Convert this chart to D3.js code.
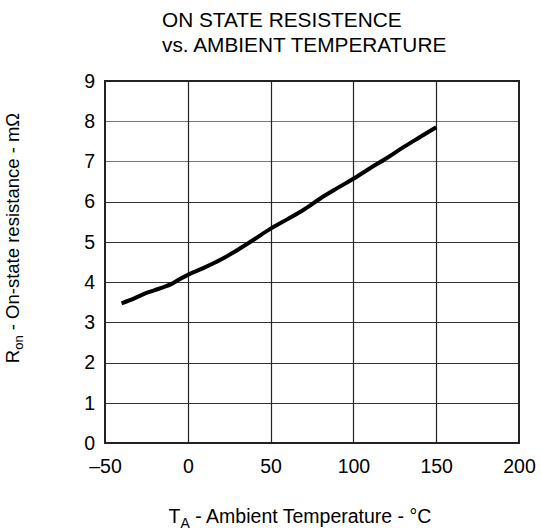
<!DOCTYPE html>
<html>
<head>
<meta charset="utf-8">
<script src="https://cdn.jsdelivr.net/npm/d3@7"></script>
<style>
  html, body { margin: 0; padding: 0; background: #fff; }
  svg { display: block; font-family: "Liberation Sans", Arial, sans-serif; }
</style>
</head>
<body>
<svg id="chart" width="541" height="532"></svg>
<script>
const temperature = [-40, -35, -30, -25, -20, -15, -10, -5, 0, 10, 20, 30, 40, 50, 60, 70, 80, 90, 100, 110, 120, 130, 140, 150];
const resistance  = [3.47, 3.55, 3.64, 3.73, 3.80, 3.87, 3.95, 4.07, 4.18, 4.36, 4.56, 4.80, 5.06, 5.33, 5.56, 5.80, 6.08, 6.33, 6.57, 6.83, 7.08, 7.35, 7.60, 7.85];
const xTicks = [-50, 0, 50, 100, 150, 200];
const yTicks = [0, 1, 2, 3, 4, 5, 6, 7, 8, 9];
const titleLines = ["ON STATE RESISTENCE", "vs. AMBIENT TEMPERATURE"];

const svg = d3.select("#chart");
const mLeft = 105, mRight = 519, mTop = 81, mBottom = 443;

const x = d3.scaleLinear().domain([-50, 200]).range([mLeft, mRight]);
const y = d3.scaleLinear().domain([0, 9]).range([mBottom, mTop]);

// gridlines
svg.append("g").selectAll("line").data(yTicks.filter(d => d > 0 && d < 9)).join("line")
  .attr("x1", mLeft).attr("x2", mRight)
  .attr("y1", d => Math.round(y(d)) + 0.5).attr("y2", d => Math.round(y(d)) + 0.5)
  .attr("stroke", d => d >= 7 ? "#777" : "#333").attr("stroke-width", 1.2);
svg.append("g").selectAll("line").data(xTicks.filter(d => d > -50 && d < 200)).join("line")
  .attr("y1", mTop).attr("y2", mBottom)
  .attr("x1", d => Math.round(x(d)) + 0.5).attr("x2", d => Math.round(x(d)) + 0.5)
  .attr("stroke", "#222").attr("stroke-width", 1.2);

// frame
svg.append("rect").attr("x", mLeft).attr("y", mTop).attr("width", mRight - mLeft).attr("height", mBottom - mTop)
  .attr("fill", "none").attr("stroke", "#222").attr("stroke-width", 2);

// axes labels via d3 axes
const xAxis = d3.axisBottom(x).tickValues(xTicks).tickSize(0).tickPadding(16)
  .tickFormat(d => d < 0 ? "\u2013" + Math.abs(d) : String(d));
const gx = svg.append("g").attr("transform", `translate(0,${mBottom})`).call(xAxis);
gx.select(".domain").remove();
gx.selectAll("text").attr("font-size", 19.5).attr("fill", "#000").attr("font-family", "Liberation Sans, Arial, sans-serif");

const yAxis = d3.axisLeft(y).tickValues(yTicks).tickSize(0).tickPadding(10);
const gy = svg.append("g").attr("transform", `translate(${mLeft},0)`).call(yAxis);
gy.select(".domain").remove();
gy.selectAll("text").attr("font-size", 19.5).attr("fill", "#000").attr("font-family", "Liberation Sans, Arial, sans-serif");

// curve
const pts = temperature.map((t, i) => [t, resistance[i]]);
svg.append("path").datum(pts)
  .attr("d", d3.line().x(d => x(d[0])).y(d => y(d[1])).curve(d3.curveMonotoneX))
  .attr("fill", "none").attr("stroke", "#000").attr("stroke-width", 4).attr("stroke-linecap", "butt");

// title
svg.append("g").selectAll("text").data(titleLines).join("text")
  .attr("x", 162).attr("y", (d, i) => 27 + i * 25)
  .attr("font-size", 20.8).attr("fill", "#000").text(d => d);

// x label
const xl = svg.append("text").attr("x", 300).attr("y", 523).attr("text-anchor", "middle")
  .attr("font-size", 19.5).attr("fill", "#000");
xl.append("tspan").text("T");
xl.append("tspan").attr("font-size", 14).attr("dy", 5).text("A");
xl.append("tspan").attr("dy", -5).text(" - Ambient Temperature - \u00B0C");

// y label
const yl = svg.append("text").attr("transform", "translate(19,238) rotate(-90)").attr("text-anchor", "middle")
  .attr("font-size", 18.5).attr("fill", "#000");
yl.append("tspan").text("R");
yl.append("tspan").attr("font-size", 13).attr("dy", 4).text("on");
yl.append("tspan").attr("dy", -4).text(" - On-state resistance - m\u03A9");
</script>
</body>
</html>
